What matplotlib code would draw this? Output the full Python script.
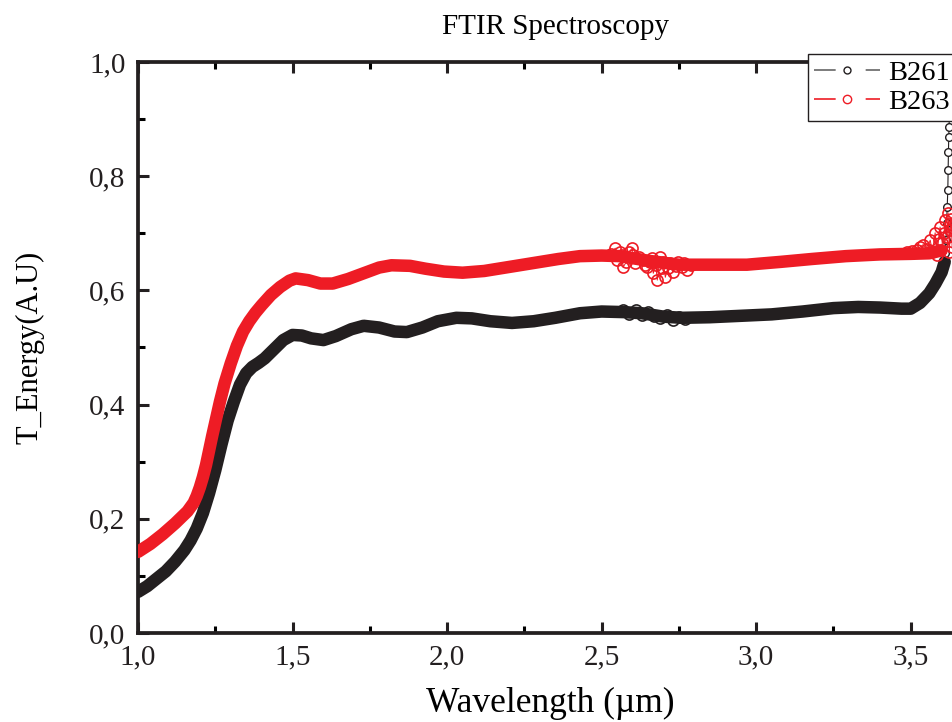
import matplotlib
matplotlib.use('Agg')
import matplotlib.pyplot as plt
from matplotlib.lines import Line2D
from matplotlib.ticker import MultipleLocator, FuncFormatter

# B261 (black) main curve
wl_b261 = [1.00, 1.03, 1.06, 1.09, 1.12, 1.15, 1.17, 1.19, 1.21, 1.23, 1.25, 1.27,
           1.29, 1.31, 1.33, 1.35, 1.37, 1.39, 1.41, 1.44, 1.47, 1.50, 1.53, 1.56,
           1.60, 1.64, 1.69, 1.73, 1.78, 1.83, 1.87, 1.92, 1.97, 2.03, 2.08, 2.14,
           2.21, 2.28, 2.35, 2.43, 2.50, 2.57, 2.63, 2.70, 2.76, 2.85, 2.97, 3.05,
           3.15, 3.25, 3.33, 3.40, 3.47, 3.50, 3.53, 3.56, 3.58, 3.60, 3.61]
te_b261 = [0.072, 0.082, 0.095, 0.108, 0.125, 0.145, 0.162, 0.183, 0.210, 0.245, 0.285, 0.330,
           0.372, 0.405, 0.435, 0.455, 0.466, 0.473, 0.481, 0.497, 0.513, 0.522, 0.521, 0.516,
           0.513, 0.520, 0.532, 0.538, 0.535, 0.528, 0.527, 0.535, 0.546, 0.552, 0.551, 0.546,
           0.543, 0.546, 0.552, 0.560, 0.563, 0.562, 0.560, 0.554, 0.552, 0.553, 0.556, 0.558,
           0.563, 0.569, 0.571, 0.570, 0.568, 0.568, 0.578, 0.595, 0.612, 0.632, 0.650]

# B261 wiggles around 2.55-2.78 um
wl_b261_noise = [2.57, 2.59, 2.61, 2.63, 2.65, 2.67, 2.69, 2.71, 2.73, 2.75, 2.77]
te_b261_noise = [0.566, 0.559, 0.565, 0.557, 0.563, 0.556, 0.551, 0.557, 0.549, 0.554, 0.550]

# B261 sparse points of the steep rise at the right edge
wl_b261_tail = [3.612, 3.614, 3.616, 3.618, 3.620, 3.621, 3.622, 3.623, 3.624, 3.625, 3.626, 3.627]
te_b261_tail = [0.665, 0.688, 0.718, 0.746, 0.776, 0.810, 0.842, 0.869, 0.886, 0.910, 0.940, 0.970]

# B263 (red) main curve
wl_b263 = [1.00, 1.04, 1.08, 1.12, 1.16, 1.18, 1.19, 1.20, 1.21, 1.22, 1.24, 1.265,
           1.28, 1.30, 1.32, 1.34, 1.36, 1.38, 1.40, 1.43, 1.46, 1.49, 1.51, 1.55,
           1.59, 1.63, 1.68, 1.73, 1.78, 1.82, 1.88, 1.93, 1.99, 2.05, 2.12, 2.20,
           2.28, 2.36, 2.43, 2.50, 2.56, 2.65, 2.75, 2.86, 2.97, 3.08, 3.18, 3.29,
           3.40, 3.50, 3.56, 3.60]
te_b263 = [0.142, 0.156, 0.173, 0.192, 0.213, 0.228, 0.240, 0.255, 0.273, 0.294, 0.345, 0.405,
           0.437, 0.472, 0.503, 0.528, 0.546, 0.561, 0.574, 0.592, 0.606, 0.617, 0.621, 0.618,
           0.612, 0.612, 0.620, 0.630, 0.640, 0.644, 0.643, 0.638, 0.633, 0.631, 0.634, 0.641,
           0.648, 0.655, 0.660, 0.661, 0.660, 0.652, 0.645, 0.645, 0.645, 0.650, 0.655, 0.660,
           0.663, 0.664, 0.665, 0.670]

# B263 noisy points around 2.55-2.78 um
wl_b263_noise = [2.530, 2.544, 2.550, 2.558, 2.566, 2.570, 2.580, 2.590, 2.599, 2.602,
                 2.608, 2.620, 2.634, 2.640, 2.647, 2.655, 2.663, 2.667, 2.675, 2.680,
                 2.689, 2.696, 2.700, 2.706, 2.715, 2.722, 2.731, 2.740, 2.748, 2.760,
                 2.768, 2.777, 2.790]
te_b263_noise = [0.664, 0.674, 0.653, 0.667, 0.662, 0.641, 0.650, 0.668, 0.674, 0.662,
                 0.648, 0.658, 0.653, 0.645, 0.641, 0.650, 0.657, 0.630, 0.645, 0.618,
                 0.659, 0.639, 0.650, 0.623, 0.640, 0.648, 0.632, 0.642, 0.650, 0.641,
                 0.648, 0.636, 0.644]

# B263 noisy points at the right edge
wl_b263_tail = [3.489, 3.505, 3.521, 3.530, 3.540, 3.552, 3.563, 3.570, 3.579, 3.586,
                3.590, 3.595, 3.602, 3.607, 3.612, 3.618, 3.621, 3.625, 3.628, 3.631,
                3.634, 3.638]
te_b263_tail = [0.667, 0.669, 0.671, 0.676, 0.680, 0.672, 0.688, 0.668, 0.701, 0.662,
                0.690, 0.711, 0.683, 0.700, 0.723, 0.694, 0.736, 0.668, 0.706, 0.725,
                0.676, 0.715]

black = '#231f20'
red = '#ee1c25'

plt.rcParams['font.family'] = ['Liberation Serif', 'DejaVu Serif']

fig = plt.figure(figsize=(9.53, 7.22), dpi=100)
# axes runs past the right edge of the figure, as in the original export
ax = fig.add_axes([138 / 953, 89 / 722, 850 / 953, 571 / 722])

band = dict(lw=9, solid_capstyle='round', solid_joinstyle='round')
circ = dict(lw=0.7, marker='o', ms=8, mfc='none', mew=1.2)

# black series
ax.plot(wl_b261, te_b261, color=black, zorder=2, **band)
ax.plot(wl_b261_noise, te_b261_noise, color=black, mec=black, zorder=2, **circ)
ax.plot(wl_b261_tail, te_b261_tail, color=black, lw=0.8, marker='o', ms=5.5,
        mfc='white', mec=black, mew=1.0, zorder=3)

# red series
ax.plot(wl_b263, te_b263, color=red, zorder=4, **band)
ax.plot(wl_b263_noise, te_b263_noise, color=red, mec=red, zorder=5, **circ)
ax.plot(wl_b263_tail, te_b263_tail, color=red, mec=red, zorder=5, **circ)

ax.set_xlim(1.0, 3.75)
ax.set_ylim(0.0, 1.0)

ax.xaxis.set_major_locator(MultipleLocator(0.5))
ax.xaxis.set_minor_locator(MultipleLocator(0.25))
ax.yaxis.set_major_locator(MultipleLocator(0.2))
ax.yaxis.set_minor_locator(MultipleLocator(0.1))
comma = FuncFormatter(lambda v, _: f'{v:.1f}'.replace('.', ','))
ax.xaxis.set_major_formatter(comma)
ax.yaxis.set_major_formatter(comma)

for s in ax.spines.values():
    s.set_linewidth(2.7)
    s.set_color(black)

ax.tick_params(which='major', direction='in', length=8, width=2.2, labelsize=21,
               colors=black, top=False, right=False, pad=9)
ax.tick_params(which='minor', direction='in', length=5, width=2.2,
               top=False, right=False)
ax.tick_params(axis='x', which='both', top=True, labeltop=False)
ax.tick_params(axis='x', which='major', pad=8)

ax.set_xlabel('Wavelength (µm)', fontsize=25.5)
ax.xaxis.set_label_coords((550 - 138) / 850, -(703 - 633) / 571)
ax.xaxis.label.set_va('center')
ax.set_ylabel('T_Energy(A.U)', fontsize=22)
ax.yaxis.set_label_coords(-(138 - 30) / 850, 0.5)
ax.yaxis.label.set_va('center')
fig.text(556 / 953, 1 - 27 / 722, 'FTIR Spectroscopy', fontsize=21,
         ha='center', va='center')

handles = [
    Line2D([], [], color='#666666', lw=1.2, dashes=(13, 18, 13, 100),
           marker='o', ms=5, mfc='white', mec=black),
    Line2D([], [], color=red, lw=1.2, dashes=(13, 18, 13, 100),
           marker='o', ms=6, mfc='white', mec=red),
]
leg = fig.legend(handles, ['B261', 'B263'], loc='upper left',
                 bbox_to_anchor=(808 / 953, 1 - 54 / 722), fontsize=20.5,
                 frameon=True, fancybox=False, handlelength=2.3, handletextpad=0.3,
                 labelspacing=0.1, borderpad=0.22, borderaxespad=0)
leg.get_frame().set_edgecolor(black)
leg.get_frame().set_linewidth(1.0)
leg.get_frame().set_facecolor('white')
leg.get_frame().set_alpha(1)

fig.savefig('out.png', dpi=100)
